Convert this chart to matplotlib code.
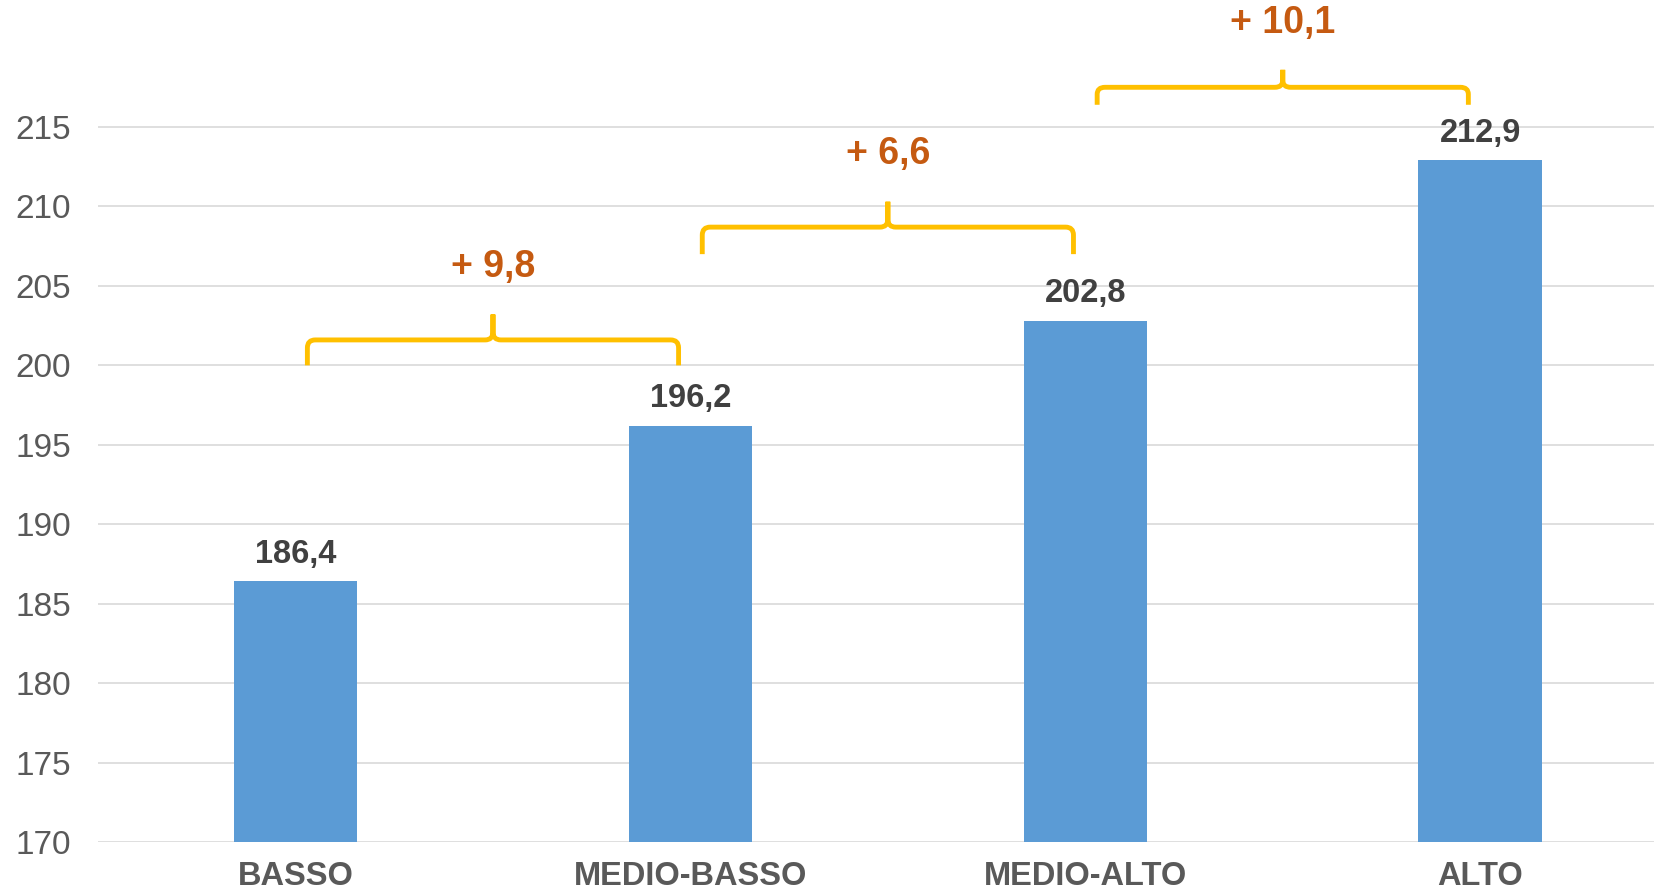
import numpy as np
import matplotlib.pyplot as plt
from matplotlib.path import Path
from matplotlib.patches import PathPatch

plt.rcParams['font.family'] = ['Liberation Sans', 'DejaVu Sans']

# data
categories = ["BASSO", "MEDIO-BASSO", "MEDIO-ALTO", "ALTO"]
values = [186.4, 196.2, 202.8, 212.9]
yticks = [170, 175, 180, 185, 190, 195, 200, 205, 210, 215]

bar_color = "#5B9BD5"
brace_color = "#FFC000"
diff_color = "#C55A11"

# brace layout (lift above taller bar, leg height, tip height) in data units
brace_lift = [3.8, 4.2, 3.5]
brace_leg = [1.6, 1.7, 1.1]
brace_tip = [1.6, 1.6, 1.1]

fig = plt.figure(figsize=(16.54, 8.93), dpi=100)
ax = fig.add_axes([0.0593, 0.0571, 0.955, 0.943])

x = np.arange(len(categories))
ax.bar(x, values, width=0.313, color=bar_color, zorder=3)

ax.set_xlim(-0.5, 3.5)
ax.set_ylim(170, 223)
ax.set_yticks(yticks)
ax.set_yticklabels([str(t) for t in yticks], fontsize=24, color="#595959")
ax.set_xticks(x)
ax.set_xticklabels(categories, fontsize=23.5, fontweight="bold", color="#595959")
ax.tick_params(axis="both", length=0)
ax.tick_params(axis="y", pad=19.5)
ax.tick_params(axis="x", pad=14)
for s in ax.spines.values():
    s.set_visible(False)
ax.yaxis.grid(True, color="#D9D9D9", linewidth=1.2, zorder=0)
ax.set_axisbelow(True)

# value labels
for xi, v in zip(x, values):
    ax.annotate(f"{v:.1f}".replace(".", ","), (xi, v), xytext=(0, 19.5),
                textcoords="offset points", ha="center", va="center",
                fontsize=23.5, fontweight="bold", color="#404040")


def draw_brace(ax, x0, x1, y_base, y_mid, y_tip, rx=0.02, ry=0.5):
    xm = (x0 + x1) / 2
    verts = [(x0, y_base), (x0, y_mid - ry), (x0, y_mid), (x0 + rx, y_mid),
             (xm - rx, y_mid), (xm, y_mid), (xm, y_mid + ry), (xm, y_tip),
             (xm, y_tip), (xm, y_mid + ry), (xm, y_mid), (xm + rx, y_mid),
             (x1 - rx, y_mid), (x1, y_mid), (x1, y_mid - ry), (x1, y_base)]
    codes = [Path.MOVETO, Path.LINETO, Path.CURVE3, Path.CURVE3,
             Path.LINETO, Path.CURVE3, Path.CURVE3, Path.LINETO,
             Path.MOVETO, Path.LINETO, Path.CURVE3, Path.CURVE3,
             Path.LINETO, Path.CURVE3, Path.CURVE3, Path.LINETO]
    ax.add_patch(PathPatch(Path(verts, codes), fill=False, edgecolor=brace_color,
                           linewidth=3.5, capstyle="butt", joinstyle="round",
                           zorder=4, clip_on=False))


# increments between consecutive groups
for i in range(len(values) - 1):
    diff = values[i + 1] - values[i]
    base = max(values[i], values[i + 1]) + brace_lift[i]
    mid = base + brace_leg[i]
    tip = mid + brace_tip[i]
    ry = min(0.5, brace_leg[i] * 0.4)
    draw_brace(ax, x[i] + 0.03, x[i + 1] - 0.03, base, mid, tip, ry=ry)
    ax.annotate(f"+ {diff:.1f}".replace(".", ","), ((x[i] + x[i + 1]) / 2, tip),
                xytext=(0, 34), textcoords="offset points",
                ha="center", va="center", fontsize=27, fontweight="bold",
                color=diff_color)

fig.savefig("out.png", dpi=100)
